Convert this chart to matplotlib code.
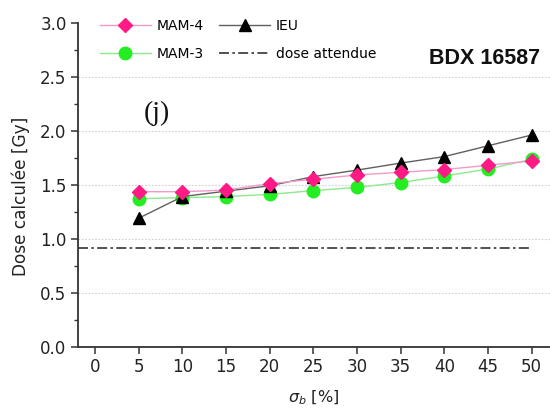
import matplotlib
matplotlib.use("Agg")
import matplotlib.pyplot as plt
from matplotlib.ticker import MultipleLocator

sigma_b = [5, 10, 15, 20, 25, 30, 35, 40, 45, 50]
mam4 = [1.435, 1.435, 1.45, 1.51, 1.55, 1.59, 1.615, 1.64, 1.68, 1.72]
mam3 = [1.37, 1.38, 1.39, 1.41, 1.445, 1.475, 1.52, 1.58, 1.645, 1.735]
ieu = [1.19, 1.39, 1.44, 1.49, 1.575, 1.635, 1.70, 1.76, 1.86, 1.96]
dose_attendue = 0.91
xticks = [0, 5, 10, 15, 20, 25, 30, 35, 40, 45, 50]
yticks = [0.0, 0.5, 1.0, 1.5, 2.0, 2.5, 3.0]

plt.rcParams['font.family'] = ['DejaVu Sans']

fig = plt.figure(figsize=(5.5, 4.12), dpi=100)
ax = fig.add_axes([0.1413, 0.1585, 1.0 - 0.1413, 0.945 - 0.1585])

ax.plot(sigma_b, mam4, color='#f59ac8', lw=1.0, marker='D', ms=7.5,
        mfc='#ff1a86', mec='#ff1a86', label='MAM-4', zorder=5)
ax.plot(sigma_b, ieu, color='#606060', lw=1.0, marker='^', ms=9,
        mfc='black', mec='black', label='IEU', zorder=4)
ax.plot(sigma_b, mam3, color='#8ee88e', lw=1.0, marker='o', ms=9,
        mfc='#22ee22', mec='#22ee22', label='MAM-3', zorder=3)
ax.plot([-2, 50], [dose_attendue, dose_attendue], color='#333333', lw=1.2,
        dashes=(6, 2, 1.5, 2), label='dose attendue', zorder=2)

ax.set_xlim(-2, 52.1)
ax.set_ylim(0, 3.0)
ax.set_xticks(xticks)
ax.set_yticks(yticks)
ax.set_yticklabels([f"{v:.1f}" for v in yticks])
ax.yaxis.set_minor_locator(MultipleLocator(0.25))

ax.grid(axis='y', color='#d0d0d0', lw=0.8, ls=(0, (1.5, 1.5)))
ax.get_ygridlines()[-1].set_visible(False)
ax.set_axisbelow(True)

for s in ['top', 'right']:
    ax.spines[s].set_visible(False)
for s in ['left', 'bottom']:
    ax.spines[s].set_color('#333333')
    ax.spines[s].set_linewidth(1.3)

ax.tick_params(axis='both', which='major', direction='out', length=5, width=1.1,
               color='#333333', labelsize=12, labelcolor='#222222', pad=3)
ax.tick_params(axis='y', which='minor', direction='out', length=3, width=1.0, color='#333333')

ax.set_ylabel('Dose calculée [Gy]', fontsize=12.2, color='#222222')
ax.yaxis.set_label_coords(-0.10, 0.465)
ax.set_xlabel(r'$\sigma_b$ [%]', fontsize=11.5, color='#222222', labelpad=9)

h, l = ax.get_legend_handles_labels()
order = [0, 2, 1, 3]
leg = ax.legend([h[i] for i in order], [l[i] for i in order], ncol=2,
                loc='upper left', bbox_to_anchor=(0.02, 1.05), frameon=False,
                fontsize=10, handlelength=3.7, handletextpad=0.4,
                columnspacing=1.1, labelspacing=1.0)

ax.text(0.98, 0.89, 'BDX 16587', transform=ax.transAxes, ha='right', va='center',
        fontsize=15.5, fontweight='bold', family='Liberation Sans', color='#111111')
ax.text(0.168, 0.72, '(j)', transform=ax.transAxes, ha='center', va='center',
        fontsize=20, family='Liberation Serif', color='#111111')

fig.savefig('out.png', dpi=100)
